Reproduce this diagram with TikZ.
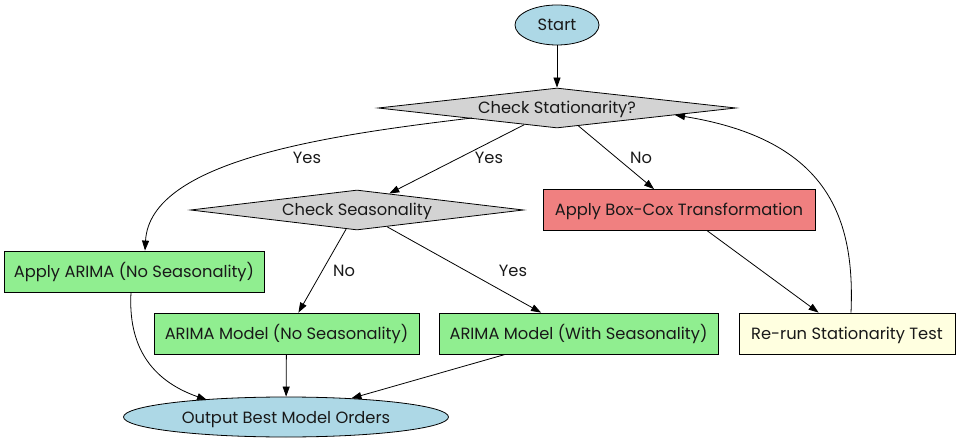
\documentclass[tikz,border=0pt]{standalone}
\usepackage{fontspec}
\setmainfont{Poppins}
\usetikzlibrary{shapes.geometric,arrows.meta,calc}
\definecolor{lblue}{HTML}{ADD8E6}
\definecolor{lgrey}{HTML}{D3D3D3}
\definecolor{lgreen}{HTML}{90EE90}
\definecolor{lcoral}{HTML}{F08080}
\definecolor{lyellow}{HTML}{FFFFE0}
\tikzset{
  base/.style={draw=black, line width=0.8pt, font=\fontsize{16.3}{18}\selectfont, text=black!90, inner sep=0pt, text height=13.5pt, text depth=1.5pt},
  oval/.style={base, ellipse, fill=lblue},
  decision/.style={base, diamond, fill=lgrey, aspect=9},
  procbox/.style={base, rectangle, minimum height=41pt},
  lbl/.style={font=\fontsize{16.3}{18}\selectfont, text=black!90, inner sep=0pt, text height=13.5pt, text depth=1.5pt},
  arr/.style={line width=0.8pt, -{Triangle[length=10pt,width=7pt]}}
}
\begin{document}
\begin{tikzpicture}[x=1pt,y=-1pt]
\useasboundingbox (0,0) rectangle (960,443);
\node[oval, minimum width=84pt, minimum height=40pt] (start) at (557,25) {Start};
\node[decision, minimum width=358pt, minimum height=40pt] (cs) at (557,108) {Check Stationarity?};
\node[decision, minimum width=333pt, minimum height=40pt] (season) at (357,210) {Check Seasonality};
\node[procbox, fill=lcoral, minimum width=272pt] (box) at (679,210) {Apply Box-Cox Transformation};
\node[procbox, fill=lgreen, minimum width=260pt] (a1) at (134,271.5) {Apply ARIMA (No Seasonality)};
\node[procbox, fill=lgreen, minimum width=265pt] (ano) at (286.5,333.5) {ARIMA Model (No Seasonality)};
\node[procbox, fill=lgreen, minimum width=279pt] (awith) at (578.5,333.5) {ARIMA Model (With Seasonality)};
\node[procbox, fill=lyellow, minimum width=216pt] (rerun) at (847,333.5) {Re-run Stationarity Test};
\node[oval, minimum width=325pt, minimum height=40pt] (out) at (286,417) {Output Best Model Orders};

\draw[arr] (start) -- (cs);
\draw[arr] ($(cs)+(-85,10)$) .. controls (330,135) and (150,160) .. ($(a1.north)+(11,0)$);
\draw[arr] (cs) -- (season);
\draw[arr] (cs) -- (box);
\draw[arr] (season) -- (ano);
\draw[arr] (season) -- (awith);
\draw[arr] (box) -- (rerun);
\draw[arr] ($(rerun.north)+(4,0)$) .. controls (855,220) and (830,140) .. ($(cs)+(118,7)$);
\draw[arr] ($(a1.south)+(-3,0)$) .. controls (128,345) and (150,380) .. ($(out)+(-79,-17)$);
\draw[arr] (ano) -- (out);
\draw[arr] (awith) -- (out);

\node[lbl] (l1) at (307,158) {Yes};
\node[lbl] (l2) at (489,158) {Yes};
\node[lbl] (l3) at (641,158) {No};
\node[lbl] (l4) at (344,271) {No};
\node[lbl] (l5) at (513,271) {Yes};
\end{tikzpicture}
\end{document}
